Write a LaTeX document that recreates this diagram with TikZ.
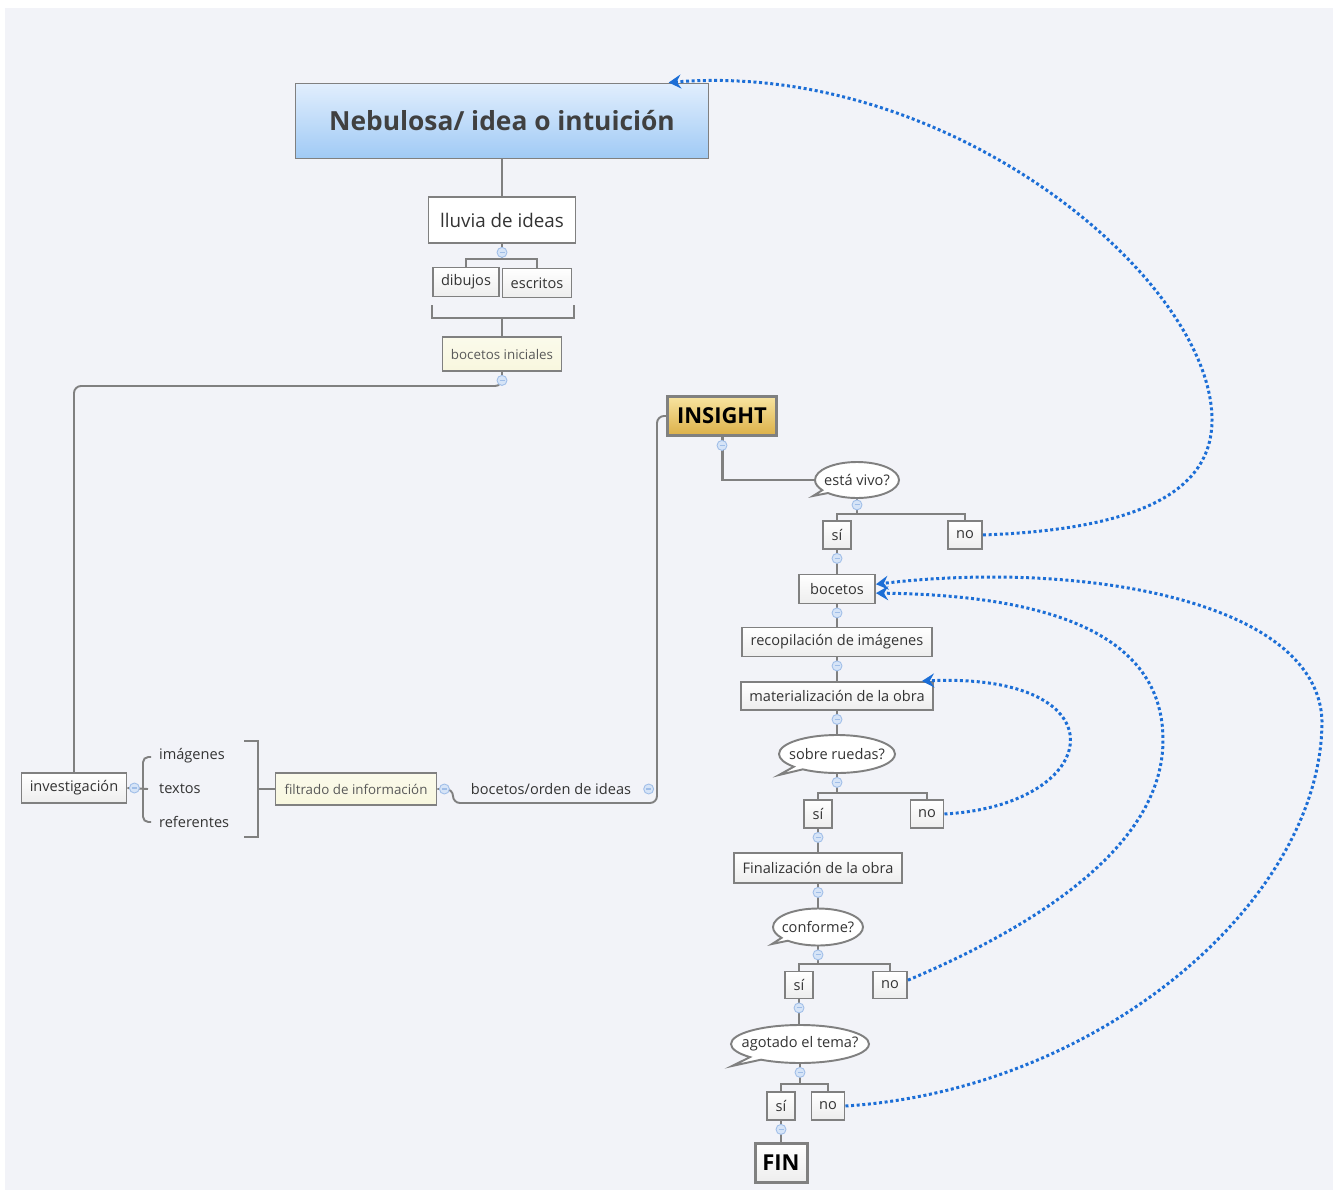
\documentclass[tikz,border=0pt]{standalone}
\usepackage{fontspec}
\setmainfont{Open Sans}
\usetikzlibrary{arrows.meta,positioning,shapes.callouts}
\definecolor{paper}{RGB}{242,243,248}
\definecolor{edge}{RGB}{128,128,128}
\definecolor{ink}{RGB}{51,51,51}
\definecolor{dotblue}{RGB}{28,110,214}
\definecolor{skytop}{RGB}{225,238,253}
\definecolor{skybot}{RGB}{160,202,245}
\definecolor{goldtop}{RGB}{248,228,160}
\definecolor{goldbot}{RGB}{220,176,72}
\definecolor{cream}{RGB}{248,247,222}
\definecolor{foldfill}{RGB}{214,228,247}
\definecolor{foldedge}{RGB}{160,190,232}
\tikzstyle{box}=[draw=edge,line width=1.1pt,top color=white,bottom color=black!7,text=ink,inner sep=0pt,font=\fontsize{8.3}{10}\selectfont]
\tikzstyle{note}=[box,top color=cream!60,bottom color=cream,text=black!65,font=\fontsize{7.6}{9}\selectfont]
\tikzstyle{bold box}=[box,line width=1.7pt,text=black,font=\bfseries\fontsize{12.5}{14}\selectfont]
\tikzstyle{bubble}=[ellipse callout,draw=edge,line width=1.1pt,fill=white,text=ink,inner ysep=0pt,inner xsep=-6pt,callout pointer arc=12,font=\fontsize{8.3}{10}\selectfont]
\tikzstyle{entry}=[text=ink,inner sep=1pt,font=\fontsize{8.3}{10}\selectfont]
\tikzstyle{fold}=[circle,draw=foldedge,fill=foldfill,line width=0.5pt,minimum size=0.2cm,inner sep=0pt,
  path picture={\draw[foldedge,line width=0.6pt] ([xshift=-0.05cm]path picture bounding box.center) -- ([xshift=0.05cm]path picture bounding box.center);}]
\tikzstyle{link}=[draw=edge,line width=1.1pt]
\tikzstyle{backlink}=[dotblue,line width=1.7pt,dash pattern=on 1.7pt off 1.5pt,-{Stealth[length=7pt,width=8pt,inset=2.5pt]}]
\tikzset{wh/.style 2 args={minimum width=#1*0.02cm,minimum height=#2*0.02cm}}

\begin{document}
\begin{tikzpicture}[x=0.02cm,y=-0.02cm]
\useasboundingbox (0,0) rectangle (1339,1193);
\fill[white] (0,0) rectangle (1339,1193);
\fill[paper] (5,8) rectangle (1333,1190);

% upper part
\node[box,wh={413}{75},top color=skytop,bottom color=skybot,text=black!75,font=\bfseries\fontsize{15}{18}\selectfont] (nebulosa) at (502,121) {Nebulosa/ idea o intuición};
\node[box,wh={147}{46},top color=white,bottom color=white,font=\fontsize{10.7}{13}\selectfont] (lluvia) at (502,220) {lluvia de ideas};
\node[box,wh={66}{29}] (dibujos) at (466,282) {dibujos};
\node[box,wh={69}{29}] (escritos) at (537,283) {escritos};
\node[note,wh={119}{34}] (iniciales) at (502,354) {bocetos iniciales};

% left part
\node[box,wh={105}{30}] (investigacion) at (74,788) {investigación};
\node[entry,anchor=west] (imagenes) at (157,756) {imágenes};
\node[entry,anchor=west] (textos) at (157,789) {textos};
\node[entry,anchor=west] (referentes) at (157,822) {referentes};
\node[note,wh={161}{32}] (filtrado) at (356,789) {filtrado de información};
\node[entry] (orden) at (551,789) {bocetos/orden de ideas};

% right column
\node[bold box,wh={109}{39},top color=goldtop,bottom color=goldbot] (insight) at (722,416) {INSIGHT};
\node[bubble,wh={84}{36},callout absolute pointer={(813,496)}] (vivo) at (857,480) {está vivo?};
\node[box,wh={28}{28}] (si1) at (837,535) {sí};
\node[box,wh={34}{28}] (no1) at (965,535) {no};
\node[box,wh={76}{29}] (bocetos) at (837,589) {bocetos};
\node[box,wh={190}{29}] (recop) at (837,642) {recopilación de imágenes};
\node[box,wh={192}{28}] (mat) at (837,696) {materialización de la obra};
\node[bubble,wh={116}{38},callout absolute pointer={(779,775)}] (ruedas) at (837,754) {sobre ruedas?};
\node[box,wh={28}{28}] (si2) at (818,814) {sí};
\node[box,wh={33}{28}] (no2) at (927,814) {no};
\node[box,wh={168}{30}] (final) at (818,868) {Finalización de la obra};
\node[bubble,wh={90}{37},callout absolute pointer={(772,944)}] (conforme) at (818,927) {conforme?};
\node[box,wh={28}{27}] (si3) at (799,985) {sí};
\node[box,wh={34}{27}] (no3) at (890,985) {no};
\node[bubble,wh={138}{38},callout absolute pointer={(732,1066)}] (agotado) at (800,1044) {agotado el tema?};
\node[box,wh={28}{28}] (si4) at (781,1106) {sí};
\node[box,wh={33}{28}] (no4) at (828,1106) {no};
\node[bold box,wh={52}{39}] (fin) at (781,1163) {FIN};

% connectors
\draw[link] (nebulosa) -- (lluvia);
\draw[link] (lluvia.south) -- (502,259);
\draw[link] (dibujos.north) |- (502,259) -| (escritos.north);
\draw[link] (432,305) |- (574,318) -- (574,305);
\draw[link] (502,318) -- (iniciales.north);
\draw[link,rounded corners=4pt] (iniciales.south) -- (502,386) -| (investigacion.north);
\draw[link] (investigacion.east) -- (148,789);
\draw[link,rounded corners=3pt] (151,757) -| (143,822) -- (151,822);
\draw[link] (244,741) -| (258,837) -- (244,837);
\draw[link] (258,789) -- (filtrado.west);
\draw[link,rounded corners=4pt] (filtrado.east) -| (453,803) -| (657,416) -- (insight.west);
\draw[link,line width=1.7pt] (insight.south) |- (vivo.west);
\draw[link] (vivo.south) -- (857,514);
\draw[link] (si1.north) |- (857,514) -| (no1.north);
\draw[link] (si1) -- (bocetos);
\draw[link] (bocetos) -- (recop);
\draw[link] (recop) -- (mat);
\draw[link] (mat) -- (ruedas);
\draw[link] (ruedas.south) -- (837,793);
\draw[link] (si2.north) |- (837,793) -| (no2.north);
\draw[link] (si2) -- (final);
\draw[link] (final) -- (conforme);
\draw[link] (conforme.south) -- (818,964);
\draw[link] (si3.north) |- (818,964) -| (no3.north);
\draw[link] (si3.south) -- (si3.south |- agotado.north);
\draw[link] (agotado.south) -- (800,1084);
\draw[link] (si4.north) |- (800,1084) -| (no4.north);
\draw[link] (si4) -- (fin);

% fold buttons
\foreach \n in {lluvia,iniciales,insight,si1,bocetos,recop,mat,ruedas,si2,final,conforme,si3,agotado,si4}
  \node[fold,below=0.06cm of \n] (fold-\n) {};
\node[fold,below=0.01cm of vivo] (fold-vivo) {};
\node[fold,right=0.03cm of investigacion] (fold-investigacion) {};
\node[fold,right=0.03cm of filtrado] (fold-filtrado) {};
\node[fold,right=0.2cm of orden] (fold-orden) {};

% dotted loops back
\draw[backlink] (no1.east) .. controls (1120,530) and (1212,500) .. (1212,420) .. controls (1212,280) and (950,60) .. (nebulosa.13);
\draw[backlink] (no2.east) .. controls (1105,805) and (1125,672) .. (mat.10);
\draw[backlink] (no3.15) .. controls (1050,920) and (1163,840) .. (1163,740) .. controls (1163,630) and (1040,595) .. (bocetos.-6);
\draw[backlink] (no4.east) .. controls (1100,1090) and (1322,900) .. (1322,721) .. controls (1318,600) and (1080,560) .. (bocetos.7);
\end{tikzpicture}
\end{document}
